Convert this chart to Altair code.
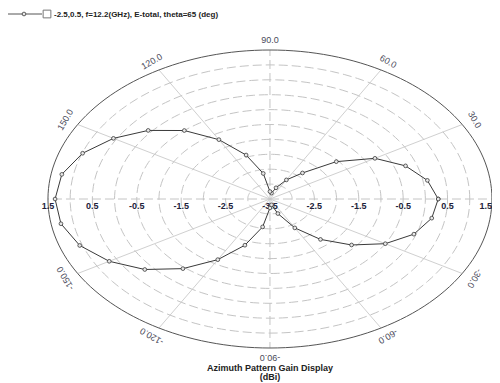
import altair as alt
import pandas as pd
import numpy as np

# ---------------- data ----------------
angles_deg = [0, 10, 20, 30, 40, 50, 60, 70, 80, 90, 100, 110, 120, 130, 140, 150, 160, 170,
              180, 190, 200, 210, 220, 230, 240, 250, 260, 270, 280, 290, 300, 310, 320, 330, 340, 350]
gain_dbi = [0.29, 0.10, -0.25, -0.77, -1.55, -2.36, -2.76, -3.10, -3.30, -3.25, -2.63, -1.93, -1.20,
            -0.50, 0.08, 0.57, 0.99, 1.26, 1.34, 1.28, 1.06, 0.68, 0.18, -0.45, -1.15, -1.85, -2.55,
            -3.20, -3.30, -2.98, -2.38, -1.73, -1.10, -0.50, -0.05, 0.20]

r_min_db, r_max_db = -3.5, 1.5
ring_db = [-3.0, -2.5, -2.0, -1.5, -1.0, -0.5, 0.0, 0.5, 1.0]
radial_tick_values = [1.5, 0.5, -0.5, -1.5, -2.5, -3.5]
radial_tick_labels = ["1.5", "0.5", "-0.5", "-1.5", "-2.5", "-3.5"]
angle_ticks = [30, 60, 90, 120, 150, -150, -120, -90, -60, -30]
angle_tick_labels = ["30.0", "60.0", "90.0", "120.0", "150.0", "-150.0", "-120.0", "-90.0", "-60.0", "-30.0"]
spoke_angles = [0, 30, 60, 90, 120, 150, 180, 210, 240, 270, 300, 330]
legend_text = "-2.5,0.5, f=12.2(GHz), E-total, theta=65 (deg)"
title_lines = ["Azimuth Pattern Gain Display", "(dBi)"]

FONT = "Liberation Sans"
W, H = 484, 375
PX_X, PX_Y = 222.0, 149.0
XD = [-1.18, -1.18 + W / PX_X]
YMAX = 191.0 / PX_Y
YD = [YMAX - H / PX_Y, YMAX]
span = r_max_db - r_min_db

xs = alt.Scale(domain=XD, nice=False, zero=False)
ys = alt.Scale(domain=YD, nice=False, zero=False)
X = alt.X("x:Q", scale=xs, axis=None)
Y = alt.Y("y:Q", scale=ys, axis=None)

# ---------------- grid tables ----------------
t = np.arange(0, 361, 2)
rows = []
for db in ring_db + [r_max_db]:
    r = (db - r_min_db) / span
    for k, tt in enumerate(t):
        rows.append({"db": db, "i": k, "x": r * np.cos(np.radians(tt)), "y": r * np.sin(np.radians(tt))})
rings = pd.DataFrame(rows)

inner = alt.Chart(rings).transform_filter(alt.datum.db < r_max_db).mark_line(
    stroke="#c4c4c4", strokeWidth=1, strokeDash=[9, 4]
).encode(x=X, y=Y, detail="db:N", order="i:Q")
outer = alt.Chart(rings).transform_filter(alt.datum.db >= r_max_db).mark_line(
    stroke="#555555", strokeWidth=1
).encode(x=X, y=Y, order="i:Q")

spokes_df = pd.DataFrame({"a": spoke_angles})
spokes_df["axis"] = [a % 90 == 0 for a in spoke_angles]
spoke_base = alt.Chart(spokes_df).transform_calculate(
    x="0", y="0",
    x2="cos(datum.a*PI/180)", y2="sin(datum.a*PI/180)"
)
spokes = spoke_base.transform_filter("!datum.axis").mark_rule(stroke="#d0d0d0", strokeWidth=1).encode(
    x=X, y=Y, x2="x2:Q", y2="y2:Q")
axes = spoke_base.transform_filter("datum.axis").mark_rule(
    stroke="#c4c4c4", strokeWidth=1, strokeDash=[9, 4]).encode(x=X, y=Y, x2="x2:Q", y2="y2:Q")

# angle labels
ang_df = pd.DataFrame({"a": angle_ticks, "label": angle_tick_labels})
ang_labels = alt.Chart(ang_df).transform_calculate(
    x="1.065*cos(datum.a*PI/180)", y="1.065*sin(datum.a*PI/180)",
    rot="(450 - datum.a) % 360"
).mark_text(font=FONT, fontSize=9, color="#4a4a5a", align="center", baseline="middle").encode(
    x=X, y=Y, text="label:N", angle=alt.Angle("rot:Q", scale=None))

# radial labels (both sides)
rad_df = pd.DataFrame({"v": radial_tick_values, "label": radial_tick_labels})
rad_style = dict(font=FONT, fontSize=9, fontWeight="bold", color="#22223a", dy=7, baseline="middle")
rad_left = alt.Chart(rad_df).transform_calculate(
    x=f"-(datum.v - ({r_min_db}))/{span}", y="0"
).mark_text(align="center", **rad_style).encode(x=X, y=Y, text="label:N")
rad_right = alt.Chart(rad_df).transform_filter(
    (alt.datum.v > r_min_db) & (alt.datum.v < r_max_db)
).transform_calculate(
    x=f"(datum.v - ({r_min_db}))/{span}", y="0"
).mark_text(align="center", **rad_style).encode(x=X, y=Y, text="label:N")
rad_right_edge = alt.Chart(rad_df).transform_filter(alt.datum.v >= r_max_db).transform_calculate(
    x=f"(datum.v - ({r_min_db}))/{span}", y="0"
).mark_text(align="right", **rad_style).encode(x=X, y=Y, text="label:N")

# data
data_df = pd.DataFrame({"angle": angles_deg + [angles_deg[0]],
                        "gain": gain_dbi + [gain_dbi[0]],
                        "i": list(range(len(angles_deg) + 1))})
data_base = alt.Chart(data_df).transform_calculate(
    r=f"max((datum.gain - ({r_min_db}))/{span}, 0)"
).transform_calculate(
    x="datum.r*cos(datum.angle*PI/180)", y="datum.r*sin(datum.angle*PI/180)"
)
data_line = data_base.mark_line(stroke="#3a3a3a", strokeWidth=1).encode(x=X, y=Y, order="i:Q")
data_pts = data_base.mark_point(shape="circle", size=14, filled=True, fill="#e8e8e8",
                                stroke="#3a3a3a", strokeWidth=0.8, opacity=1).encode(x=X, y=Y)

# legend
leg_df = pd.DataFrame({"label": [legend_text]})
leg_line = alt.Chart(leg_df).mark_rule(stroke="#555555", strokeWidth=1).encode(
    x=alt.value(0), x2=alt.value(34), y=alt.value(6))
leg_pt = alt.Chart(leg_df).mark_point(shape="circle", size=14, filled=True, fill="#e8e8e8",
                                      stroke="#3a3a3a", strokeWidth=0.8, opacity=1).encode(
    x=alt.value(16), y=alt.value(6))
leg_box = alt.Chart(leg_df).mark_point(shape="square", size=60, filled=True, fill="white",
                                       stroke="#777777", strokeWidth=1, opacity=1).encode(
    x=alt.value(39), y=alt.value(6))
leg_text = alt.Chart(leg_df).mark_text(font=FONT, fontSize=8, fontWeight="bold", color="#222222",
                                       align="left", baseline="middle").encode(
    x=alt.value(46), y=alt.value(7), text="label:N")

# bottom title
title_df = pd.DataFrame({"label": title_lines, "k": [0, 1]})
title1 = alt.Chart(title_df).transform_filter(alt.datum.k == 0).mark_text(
    font=FONT, fontSize=9, fontWeight="bold", color="#222222", align="center", baseline="middle"
).encode(x=alt.value(262), y=alt.value(360), text="label:N")
title2 = alt.Chart(title_df).transform_filter(alt.datum.k == 1).mark_text(
    font=FONT, fontSize=9, fontWeight="bold", color="#222222", align="center", baseline="middle"
).encode(x=alt.value(262), y=alt.value(369), text="label:N")

chart = alt.layer(
    spokes, inner, axes, outer, ang_labels, rad_left, rad_right, rad_right_edge, data_line, data_pts,
    leg_line, leg_pt, leg_box, leg_text, title1, title2
).properties(
    width=W, height=H, padding=0, autosize=alt.AutoSizeParams(type="none"), background="white"
).configure_view(stroke=None)

chart.save("out.html", embed_options={"renderer": "svg", "actions": False})
